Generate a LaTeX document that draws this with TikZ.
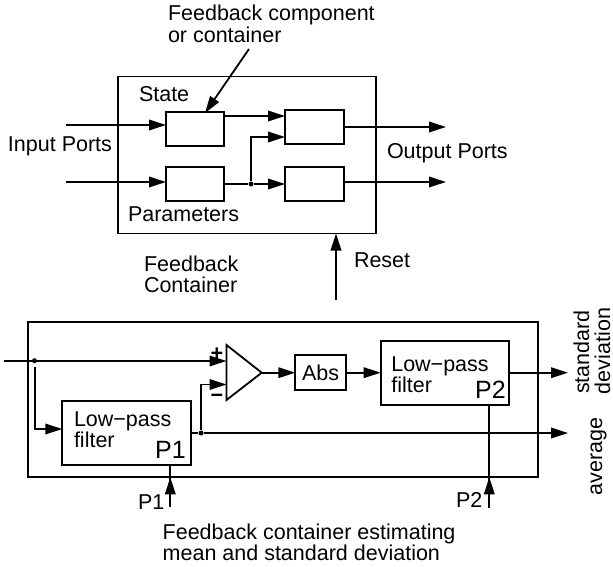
\documentclass[tikz,border=0pt]{standalone}
\usepackage{fontspec}
\setmainfont{Liberation Sans}
\usetikzlibrary{arrows.meta}
\tikzset{
  x=1pt,y=-1pt,
  box/.style={draw,line width=1.8pt,anchor=north west,inner sep=0pt,outer sep=0pt},
  lbl/.style={anchor=base west,inner sep=0pt,outer sep=0pt,font=\fontsize{21.5}{24}\selectfont},
  big/.style={anchor=center,inner sep=0pt,outer sep=0pt,font=\fontsize{25}{30}\selectfont},
  vlbl/.style={anchor=base,inner sep=0pt,outer sep=0pt,rotate=90,font=\fontsize{21.5}{24}\selectfont},
  wire/.style={line width=1.8pt},
  arr/.style={line width=1.8pt,-{Triangle[length=17pt,width=10.5pt]}},
  dotn/.style={circle,fill=black,inner sep=0pt,minimum size=5pt},
}
\begin{document}
\begin{tikzpicture}
\useasboundingbox (0,0) rectangle (613,567);
% top
\node[box,minimum width=258pt,minimum height=157pt] (cont) at (118,76.5) {};
\node[box,minimum width=58pt,minimum height=34pt] (state) at (166,112) {};
\node[box,minimum width=58pt,minimum height=34pt] (param) at (166,167) {};
\node[box,minimum width=59pt,minimum height=34pt] (up) at (285,110) {};
\node[box,minimum width=59pt,minimum height=34pt] (low) at (285,167) {};
\coordinate (in1) at (66,125);
\coordinate (in2) at (66,182);
\coordinate (out1) at (446,127);
\coordinate (out2) at (446,182);
\coordinate (rs) at (336,300);
\coordinate (fb) at (249,49);
\coordinate (fbt) at (205,113);
\node[dotn] (d0) at (251,184) {};
\draw[arr] (in1) -- (state.west |- in1);
\draw[arr] (in2) -- (param.west |- in2);
\draw[arr] (state.east |- 0,116) -- (up.west |- 0,116);
\draw[wire] (param.east |- d0) -- (d0);
\draw[arr] (d0) -- (low.west |- d0);
\draw[arr] (d0) |- (up.west |- 0,137);
\draw[arr] (up.east |- out1) -- (out1);
\draw[arr] (low.east |- out2) -- (out2);
\draw[arr] (rs) -- (rs |- cont.south);
\draw[arr] (fb) -- (fbt);
\node[lbl] (t1) at (168,21) {Feedback component};
\node[lbl] (t2) at (168,43) {or container};
\node[lbl] (t3) at (139,102) {State};
\node[lbl] (t4) at (8,152) {Input Ports};
\node[lbl] (t5) at (387,158) {Output Ports};
\node[lbl] (t6) at (128,221) {Parameters};
\node[lbl] (t7) at (144,271) {Feedback};
\node[lbl] (t8) at (144,292) {Container};
\node[lbl] (t9) at (354,267) {Reset};
% bottom
\node[box,minimum width=509.7pt,minimum height=155.3pt] (outer) at (28.3,322) {};
\node[box,minimum width=128.7pt,minimum height=64.5pt] (f1) at (62.3,400.7) {};
\node[box,minimum width=128.6pt,minimum height=64pt] (f2) at (380.7,340.7) {};
\node[box,minimum width=50.7pt,minimum height=35pt] (abs) at (295.3,355) {};
\coordinate (ta) at (226.5,345);
\coordinate (tb) at (226.5,400);
\coordinate (tc) at (261.7,372.7);
\draw[wire,line join=miter] (ta) -- (tc) -- (tb) -- cycle;
\coordinate (in) at (4,361);
\coordinate (sd) at (568,372.7);
\coordinate (avg) at (568,433);
\coordinate (p1b) at (170.3,506.5);
\coordinate (p2b) at (489.3,507.5);
\coordinate (drop) at (34.6,367);
\node[dotn] (d1) at (34.5,360.7) {};
\node[dotn] (d2) at (201,433) {};
\draw[arr] (in) -- (ta |- in);
\draw[arr] (drop) |- (f1.west |- 0,429);
\draw[wire] (f1.east |- d2) -- (d2);
\draw[arr] (d2) -- (avg);
\draw[arr] (d2) |- (ta |- 0,384.5);
\draw[arr] (tc) -- (abs.west |- tc);
\draw[arr] (abs.east |- tc) -- (f2.west |- tc);
\draw[arr] (f2.east |- sd) -- (sd);
\draw[wire] (p1b) -- (p1b |- f1.south);
\draw[wire] (p2b) -- (p2b |- f2.south);
\draw[arr] (p1b) -- (p1b |- outer.south);
\draw[arr] (p2b) -- (p2b |- outer.south);
\node[lbl,font=\fontsize{21.5}{24}\bfseries] (pl) at (210.5,360.5) {+};
\node[lbl,font=\fontsize{21.5}{24}\bfseries] (mi) at (210.5,402.5) {−};
\node[lbl,anchor=center] (a1) at (abs.center) {Abs};
\node[lbl] (l1) at (74,426) {Low−pass};
\node[lbl] (l2) at (74,447) {filter};
\node[big] (p1) at (170.5,449.5) {P1};
\node[lbl] (l3) at (391.3,371) {Low−pass};
\node[lbl] (l4) at (391.3,392.5) {filter};
\node[big] (p2) at (490.5,389.5) {P2};
\node[lbl] (p1l) at (138,509) {P1};
\node[lbl] (p2l) at (456,507) {P2};
\node[lbl] (c1) at (162.7,539) {Feedback container estimating};
\node[lbl] (c2) at (162.7,560) {mean and standard deviation};
\node[vlbl] (sdl) at (589,352) {standard};
\node[vlbl] (dvl) at (610,351) {deviation};
\node[vlbl] (avl) at (602,456.5) {average};
\end{tikzpicture}
\end{document}
